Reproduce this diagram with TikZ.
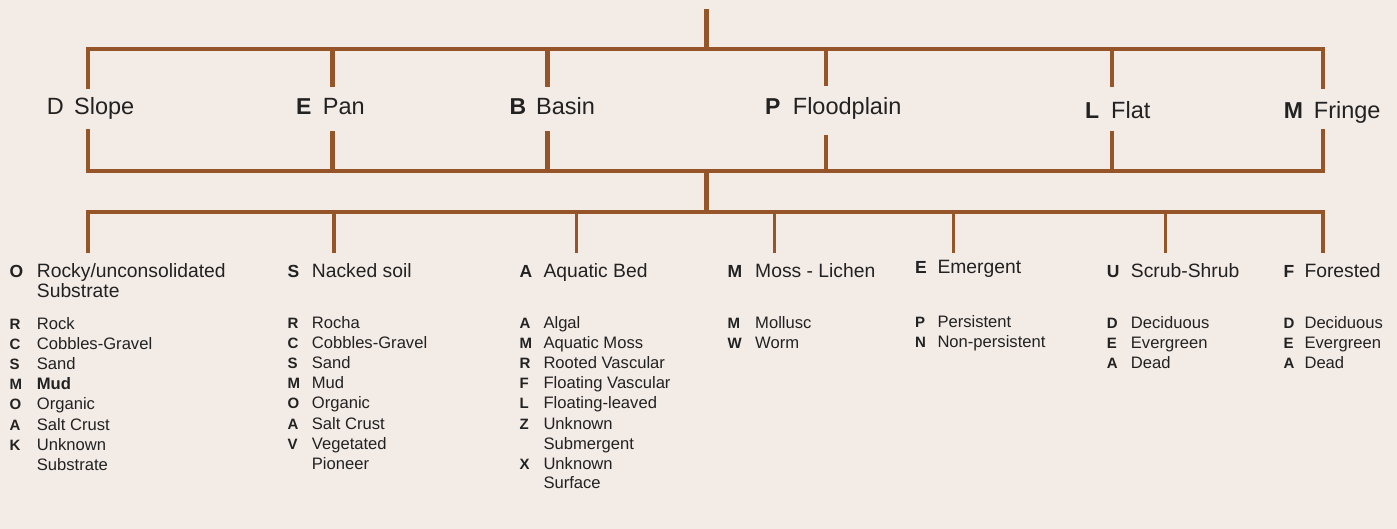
\documentclass[tikz,border=0pt]{standalone}
\usepackage{fontspec}
\setmainfont{Liberation Sans}
\definecolor{bgc}{HTML}{F3EBE6}
\definecolor{brc}{HTML}{965528}
\definecolor{txc}{HTML}{222222}
\newcommand{\itm}[6]{%
  \node[ilet] (#1l) at (#2,#4) {#5};
  \node[itxt] (#1t) at (#3,#4) {#6};}
\begin{document}
\begin{tikzpicture}[x=1pt,y=-1pt,
  thinln/.style={draw=brc,line width=3.1pt,line join=miter},
  thickln/.style={draw=brc,line width=5pt},
  barln/.style={draw=brc,line width=4.5pt,line join=miter},
  stubln/.style={draw=brc,line width=3.3pt},
  lvlet/.style={anchor=base west,inner sep=0,text=txc,font=\fontsize{23}{26}\selectfont\bfseries},
  lvtxt/.style={anchor=base west,inner sep=0,text=txc,font=\fontsize{23.5}{26}\selectfont},
  hlet/.style={anchor=base west,inner sep=0,text=txc,font=\fontsize{17.5}{20}\selectfont\bfseries},
  htxt/.style={anchor=base west,inner sep=0,text=txc,font=\fontsize{19.3}{21}\selectfont},
  ilet/.style={anchor=base west,inner sep=0,text=txc,font=\fontsize{15}{18}\selectfont\bfseries},
  itxt/.style={anchor=base west,inner sep=0,text=txc,font=\fontsize{16.6}{19}\selectfont}]
\fill[bgc] (0,0) rectangle (1397,529);
\useasboundingbox (0,0) rectangle (1397,529);

% ---------- level 0 / level 1 structure ----------
\coordinate (root) at (706,9);
\coordinate (j1) at (706,49);
\draw[thickln] (root) -- (j1);

% top bar with end stubs
\coordinate (tDs) at (88,89);   \coordinate (tDj) at (88,49);
\coordinate (tMs) at (1323,89); \coordinate (tMj) at (1323,49);
\draw[thinln] (tDs) -- (tDj) -- (tMj) -- (tMs);
% inner top stubs
\coordinate (tEj) at (332,49);  \coordinate (tEs) at (332,87);
\coordinate (tBj) at (547,49);  \coordinate (tBs) at (547,87);
\coordinate (tPj) at (826,49);  \coordinate (tPs) at (826,86);
\coordinate (tLj) at (1112,49); \coordinate (tLs) at (1112,87);
\draw[thickln] (tEj) -- (tEs);
\draw[thickln] (tBj) -- (tBs);
\draw[thinln] (tPj) -- (tPs);
\draw[thinln] (tLj) -- (tLs);

% level-1 labels
\node[lvtxt] (Dl) at (46.7,115) {D};
\node[lvtxt] (Dt) at (74,115) {Slope};
\node[lvlet] (El) at (296,115) {E};
\node[lvtxt] (Et) at (322.7,115) {Pan};
\node[lvlet] (Bl) at (509.3,115) {B};
\node[lvtxt] (Bt) at (536,115) {Basin};
\node[lvlet] (Pl) at (765,115) {P};
\node[lvtxt] (Pt) at (792.7,115) {Floodplain};
\node[lvlet] (Ll) at (1085,119) {L};
\node[lvtxt] (Lt) at (1111,119) {Flat};
\node[lvlet] (Ml) at (1283.7,119) {M};
\node[lvtxt] (Mt) at (1313.7,119) {Fringe};

% bottom bar with end stubs
\coordinate (bDs) at (88,129);   \coordinate (bDj) at (88,171);
\coordinate (bMs) at (1323,129); \coordinate (bMj) at (1323,171);
\draw[thinln] (bDs) -- (bDj) -- (bMj) -- (bMs);
\coordinate (bEs) at (332,131);  \coordinate (bEj) at (332,171);
\coordinate (bBs) at (547,131);  \coordinate (bBj) at (547,171);
\coordinate (bPs) at (826,135);  \coordinate (bPj) at (826,171);
\coordinate (bLs) at (1112,131); \coordinate (bLj) at (1112,171);
\draw[thickln] (bEs) -- (bEj);
\draw[thickln] (bBs) -- (bBj);
\draw[thinln] (bPs) -- (bPj);
\draw[thinln] (bLs) -- (bLj);

% trunk to level 2
\coordinate (j2) at (706,171);
\coordinate (j3) at (706,212);
\draw[thickln] (j2) -- (j3);

% level-2 bar
\coordinate (c1j) at (88,212);   \coordinate (c1s) at (88,253);
\coordinate (c7j) at (1323,212); \coordinate (c7s) at (1323,253);
\draw[barln] (c1s) -- (c1j) -- (c7j) -- (c7s);
\coordinate (c2j) at (334,212);    \coordinate (c2s) at (334,253);
\coordinate (c3j) at (576.5,212);  \coordinate (c3s) at (576.5,253);
\coordinate (c4j) at (774.5,212);  \coordinate (c4s) at (774.5,253);
\coordinate (c5j) at (953.5,212);  \coordinate (c5s) at (953.5,253);
\coordinate (c6j) at (1165.5,212); \coordinate (c6s) at (1165.5,253);
\draw[stubln] (c2j) -- (c2s);
\draw[stubln] (c3j) -- (c3s);
\draw[stubln] (c4j) -- (c4s);
\draw[stubln] (c5j) -- (c5s);
\draw[stubln] (c6j) -- (c6s);

% ---------- level-2 headings ----------
\node[hlet] (h1l) at (9.3,277) {O};
\node[htxt] (h1t) at (36.7,277) {Rocky/unconsolidated};
\node[htxt] (h1u) at (36.7,298) {Substrate};
\node[hlet] (h2l) at (287.3,277) {S};
\node[htxt] (h2t) at (311.7,277) {Nacked soil};
\node[hlet] (h3l) at (519.3,277) {A};
\node[htxt] (h3t) at (543.3,277) {Aquatic Bed};
\node[hlet] (h4l) at (727.3,277) {M};
\node[htxt] (h4t) at (755,277) {Moss - Lichen};
\node[hlet] (h5l) at (915,273) {E};
\node[htxt] (h5t) at (937.3,273) {Emergent};
\node[hlet] (h6l) at (1106.7,277) {U};
\node[htxt] (h6t) at (1130.7,277) {Scrub-Shrub};
\node[hlet] (h7l) at (1283.3,277) {F};
\node[htxt] (h7t) at (1304.3,277) {Forested};

% ---------- items ----------
% column 1
\itm{a1}{9.3}{36.7}{329}{R}{Rock}
\itm{a2}{9.3}{36.7}{349.2}{C}{Cobbles-Gravel}
\itm{a3}{9.3}{36.7}{369.4}{S}{Sand}
\itm{a4}{9.3}{36.7}{389.6}{M}{\bfseries Mud}
\itm{a5}{9.3}{36.7}{409.8}{O}{Organic}
\itm{a6}{9.3}{36.7}{430}{A}{Salt Crust}
\itm{a7}{9.3}{36.7}{450.2}{K}{Unknown}
\node[itxt] (a8t) at (36.7,470.4) {Substrate};
% column 2
\itm{b1}{287.3}{311.7}{328}{R}{Rocha}
\itm{b2}{287.3}{311.7}{348.2}{C}{Cobbles-Gravel}
\itm{b3}{287.3}{311.7}{368.4}{S}{Sand}
\itm{b4}{287.3}{311.7}{388.6}{M}{Mud}
\itm{b5}{287.3}{311.7}{408.8}{O}{Organic}
\itm{b6}{287.3}{311.7}{429}{A}{Salt Crust}
\itm{b7}{287.3}{311.7}{449.2}{V}{Vegetated}
\node[itxt] (b8t) at (311.7,469.4) {Pioneer};
% column 3
\itm{d1}{519.3}{543.3}{328}{A}{Algal}
\itm{d2}{519.3}{543.3}{348.2}{M}{Aquatic Moss}
\itm{d3}{519.3}{543.3}{368.4}{R}{Rooted Vascular}
\itm{d4}{519.3}{543.3}{388.6}{F}{Floating Vascular}
\itm{d5}{519.3}{543.3}{408.8}{L}{Floating-leaved}
\itm{d6}{519.3}{543.3}{429}{Z}{Unknown}
\node[itxt] (d7t) at (543.3,449.2) {Submergent};
\itm{d8}{519.3}{543.3}{469.4}{X}{Unknown}
\node[itxt] (d9t) at (543.3,488.6) {Surface};
% column 4
\itm{e1}{727.3}{755}{328}{M}{Mollusc}
\itm{e2}{727.3}{755}{348.2}{W}{Worm}
% column 5
\itm{f1}{915}{937.3}{327}{P}{Persistent}
\itm{f2}{915}{937.3}{347.5}{N}{Non-persistent}
% column 6
\itm{g1}{1106.7}{1130.7}{328}{D}{Deciduous}
\itm{g2}{1106.7}{1130.7}{348.2}{E}{Evergreen}
\itm{g3}{1106.7}{1130.7}{368.4}{A}{Dead}
% column 7
\itm{k1}{1283.3}{1304.3}{328}{D}{Deciduous}
\itm{k2}{1283.3}{1304.3}{348.2}{E}{Evergreen}
\itm{k3}{1283.3}{1304.3}{368.4}{A}{Dead}
\end{tikzpicture}
\end{document}
